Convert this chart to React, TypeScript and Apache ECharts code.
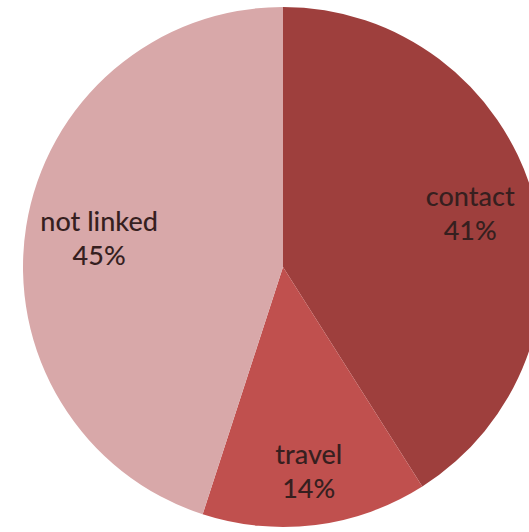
import React, { useEffect, useRef } from "react";
import * as echarts from "echarts";

const categories = ["contact", "travel", "not linked"];
const values = [41, 14, 45];
const colors = ["#9E3F3D", "#C0504E", "#D8A8A9"];
const labelRadiusFactor = [0.75, 0.79, 0.716];

const CX = 283;
const CY = 267;
const R = 260;

export default function App() {
  const ref = useRef<HTMLDivElement>(null);
  useEffect(() => {
    if (!ref.current) return;
    const chart = echarts.init(ref.current, null, { renderer: "svg" });
    const total = values.reduce((a, b) => a + b, 0);
    const midAngles: number[] = [];
    let acc = 0;
    values.forEach((v) => {
      midAngles.push(((acc + v / 2) / total) * Math.PI * 2);
      acc += v;
    });
    chart.setOption({
      animation: false,
      backgroundColor: "#ffffff",
      series: [
        {
          type: "pie",
          center: [CX, CY],
          radius: [0, R],
          startAngle: 90,
          clockwise: true,
          avoidLabelOverlap: false,
          itemStyle: { borderWidth: 0 },
          label: {
            show: true,
            position: "inside",
            formatter: "{b}\n{c}%",
            fontFamily: "Lato",
            fontWeight: 500,
            fontSize: 27,
            lineHeight: 34,
            color: "#361f1f",
            align: "center",
          },
          labelLine: { show: false },
          labelLayout: (params: any) => {
            const i = params.dataIndex;
            const a = midAngles[i];
            const r = R * labelRadiusFactor[i];
            return {
              x: CX + r * Math.sin(a),
              y: CY - r * Math.cos(a),
              align: "center",
              verticalAlign: "middle",
            };
          },
          data: categories.map((name, i) => ({
            name,
            value: values[i],
            itemStyle: { color: colors[i] },
          })),
        },
      ],
    });
    return () => chart.dispose();
  }, []);
  return (
    <div
      ref={ref}
      style={{ position: "fixed", left: 0, top: 0, width: 529, height: 532 }}
    />
  );
}
